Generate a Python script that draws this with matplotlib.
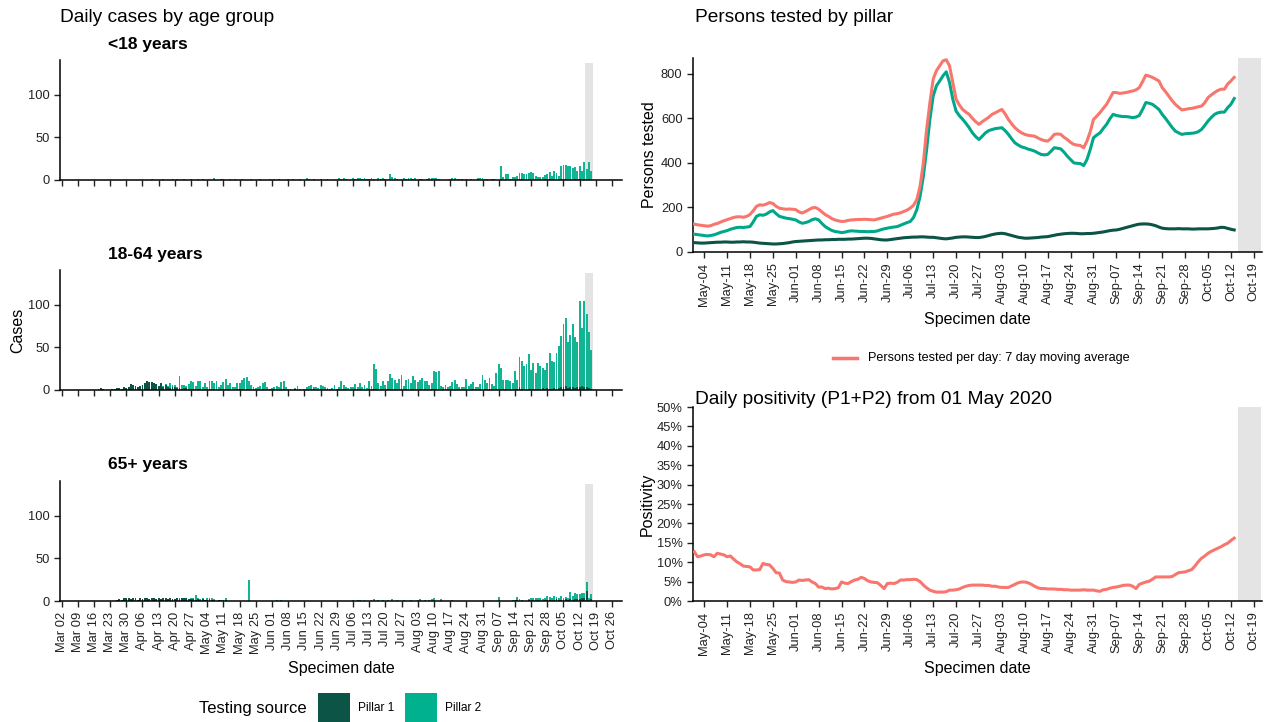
import numpy as np
import matplotlib
matplotlib.use('Agg')
import matplotlib.pyplot as plt
import matplotlib.dates as mdates
from matplotlib.patches import Rectangle
from matplotlib.lines import Line2D

plt.rcParams['font.family'] = ['Liberation Sans', 'DejaVu Sans']

P1_COL = '#0b5446'
P2_COL = '#13b493'
P2_LINE = '#00a889'
TOT_COL = '#f8766d'
GRAY = '#e4e4e4'

# ---------------------------------------------------------------
# daily cases by age group, Mar 02 - Oct 17 2020 (one row = Mon..Sun)
u18_p1 = [
    [0, 0, 0, 0, 0, 0, 0], [0, 0, 0, 0, 0, 0, 0], [0, 0, 0, 0, 0, 0, 0], [0, 0, 0, 0, 0, 0, 0],
    [0, 0, 0, 0, 0, 0, 0], [0, 0, 0, 0, 0, 0, 0], [0, 0, 0, 0, 0, 0, 0], [0, 0, 0, 0, 0, 0, 0],
    [0, 0, 0, 0, 0, 0, 0], [0, 0, 0, 0, 0, 0, 0], [0, 0, 0, 0, 0, 0, 0], [0, 0, 0, 0, 0, 0, 0],
    [0, 0, 0, 0, 0, 0, 0], [0, 0, 0, 0, 0, 0, 0], [0, 0, 0, 0, 0, 0, 0], [0, 0, 0, 0, 0, 0, 0],
    [0, 0, 0, 0, 0, 0, 0], [0, 0, 0, 0, 0, 0, 0], [0, 0, 0, 0, 0, 0, 0], [0, 0, 0, 0, 0, 0, 0],
    [0, 0, 0, 0, 0, 0, 0], [0, 0, 0, 0, 0, 0, 0], [0, 0, 0, 0, 0, 0, 0], [0, 0, 0, 0, 0, 0, 0],
    [0, 0, 0, 0, 0, 0, 0], [0, 0, 0, 0, 0, 0, 0], [0, 0, 0, 0, 0, 0, 0], [0, 1, 0, 0, 0, 0, 0],
    [0, 0, 0, 1, 0, 0, 0], [0, 0, 0, 0, 0, 0, 1], [0, 1, 0, 0, 0, 0, 1], [1, 0, 0, 1, 0, 1, 0],
    [1, 0, 1, 0, 1, 0]]
u18_p2 = [
    [0, 0, 0, 0, 0, 0, 0], [0, 0, 0, 0, 0, 0, 0], [0, 0, 0, 0, 0, 0, 0], [0, 0, 0, 0, 0, 0, 0],
    [0, 0, 0, 0, 0, 0, 0], [0, 0, 0, 0, 1, 0, 0], [0, 0, 1, 0, 0, 0, 1], [0, 1, 0, 0, 1, 0, 0],
    [1, 0, 0, 1, 0, 1, 0], [0, 1, 0, 2, 0, 0, 1], [1, 0, 0, 1, 0, 1, 0], [0, 1, 0, 0, 0, 1, 0],
    [0, 0, 1, 0, 0, 0, 1], [0, 1, 0, 1, 0, 0, 0], [1, 0, 1, 0, 0, 1, 0], [0, 2, 1, 0, 1, 0, 0],
    [1, 0, 0, 1, 0, 0, 1], [0, 2, 1, 2, 1, 0, 0], [2, 1, 2, 2, 1, 2, 1], [1, 2, 1, 0, 2, 1, 2],
    [1, 0, 7, 3, 2, 1, 0], [1, 2, 1, 2, 2, 1, 2], [0, 1, 1, 0, 1, 2, 2], [2, 2, 1, 0, 0, 0, 0],
    [1, 2, 2, 0, 1, 1, 0], [1, 0, 1, 0, 0, 2, 2], [2, 0, 1, 0, 1, 1, 0], [0, 15, 3, 7, 7, 1, 3],
    [3, 5, 8, 7, 7, 7, 8], [9, 8, 5, 4, 3, 4, 5], [7, 8, 5, 10, 8, 5, 16], [17, 18, 17, 15, 14, 14, 11],
    [15, 11, 20, 13, 20, 11]]

a1864_p1 = [
    [0, 0, 0, 0, 0, 0, 0], [0, 0, 0, 0, 0, 0, 0], [0, 0, 1, 2, 1, 0, 0], [0, 1, 1, 2, 2, 1, 3],
    [2, 3, 7, 6, 5, 4, 5], [6, 8, 10, 9, 9, 8, 7], [5, 8, 4, 6, 3, 2, 3], [3, 2, 2, 1, 2, 2, 1],
    [1, 1, 0, 1, 1, 0, 1], [1, 1, 0, 1, 1, 0, 1], [1, 0, 1, 1, 0, 0, 1], [1, 1, 0, 1, 1, 0, 0],
    [0, 1, 0, 1, 0, 0, 0], [0, 1, 0, 0, 1, 1, 0], [0, 0, 0, 1, 0, 0, 0], [0, 1, 0, 0, 1, 0, 0],
    [1, 0, 0, 1, 0, 0, 0], [0, 1, 0, 0, 1, 0, 0], [0, 1, 0, 1, 0, 0, 0], [1, 0, 1, 1, 0, 0, 1],
    [0, 1, 1, 0, 1, 0, 0], [1, 0, 1, 0, 1, 1, 0], [0, 1, 0, 1, 0, 0, 1], [1, 1, 0, 0, 1, 0, 0],
    [0, 1, 0, 0, 1, 0, 0], [1, 0, 0, 1, 0, 0, 1], [0, 1, 0, 1, 0, 0, 1], [1, 0, 1, 1, 0, 1, 0],
    [1, 1, 3, 1, 0, 1, 1], [1, 1, 0, 1, 1, 2, 1], [2, 1, 1, 2, 1, 2, 3], [3, 5, 2, 4, 3, 2, 4],
    [4, 5, 3, 4, 2, 1]]
a1864_p2 = [
    [0, 0, 0, 0, 0, 0, 0], [0, 0, 0, 0, 0, 0, 0], [0, 0, 0, 0, 0, 0, 0], [0, 0, 0, 0, 0, 0, 0],
    [0, 0, 0, 0, 0, 0, 0], [0, 0, 0, 0, 0, 0, 0], [0, 0, 1, 1, 2, 6, 3], [3, 2, 14, 5, 4, 3, 6],
    [9, 8, 5, 10, 9, 3, 7], [2, 9, 11, 7, 9, 4, 5], [8, 13, 5, 7, 4, 3, 7], [7, 11, 14, 14, 9, 6, 3],
    [2, 2, 5, 7, 9, 3, 1], [2, 2, 5, 3, 8, 9, 4], [1, 1, 0, 1, 5, 1, 0], [1, 3, 5, 6, 2, 4, 2],
    [5, 5, 3, 1, 1, 2, 6], [1, 2, 10, 6, 3, 2, 3], [4, 6, 3, 7, 4, 6, 2], [10, 5, 29, 24, 8, 5, 9],
    [6, 9, 18, 14, 11, 8, 13], [17, 5, 11, 13, 7, 15, 12], [9, 11, 14, 9, 11, 6, 7], [21, 20, 22, 5, 3, 6, 3],
    [5, 8, 12, 7, 3, 4, 4], [12, 5, 7, 8, 4, 3, 6], [18, 11, 8, 13, 7, 5, 19], [29, 26, 11, 11, 12, 9, 8],
    [21, 11, 36, 33, 28, 29, 41], [23, 31, 20, 31, 27, 24, 22], [30, 42, 33, 31, 43, 50, 61],
    [74, 80, 54, 61, 74, 60, 52], [101, 68, 102, 85, 66, 46]]

o65_p1 = [
    [0, 0, 0, 0, 0, 0, 0], [0, 0, 0, 0, 0, 0, 0], [0, 0, 0, 0, 0, 0, 0], [0, 0, 0, 1, 2, 1, 3],
    [3, 4, 2, 4, 3, 1, 4], [2, 3, 4, 2, 3, 4, 2], [3, 2, 3, 4, 2, 3, 2], [2, 3, 2, 3, 4, 3, 2],
    [2, 2, 1, 2, 1, 2, 1], [1, 2, 1, 1, 0, 1, 0], [0, 1, 0, 0, 0, 0, 0], [0, 0, 0, 0, 0, 0, 0],
    [0, 0, 0, 0, 0, 0, 0], [0, 0, 0, 0, 0, 0, 0], [0, 0, 0, 0, 0, 0, 0], [0, 0, 0, 0, 0, 0, 0],
    [0, 0, 0, 0, 0, 0, 0], [0, 0, 0, 0, 0, 0, 0], [0, 0, 0, 0, 0, 0, 0], [0, 0, 0, 0, 0, 0, 0],
    [0, 0, 0, 0, 0, 0, 0], [0, 0, 0, 0, 0, 0, 0], [0, 0, 0, 0, 0, 0, 0], [0, 0, 0, 0, 0, 0, 0],
    [0, 0, 0, 0, 0, 0, 0], [0, 0, 0, 0, 0, 0, 0], [0, 0, 0, 0, 0, 0, 0], [0, 0, 0, 0, 0, 0, 0],
    [0, 1, 0, 0, 0, 0, 1], [0, 1, 0, 1, 0, 0, 1], [1, 1, 0, 1, 2, 1, 1], [1, 2, 1, 2, 1, 2, 2],
    [2, 3, 3, 12, 1, 2]]
o65_p2 = [
    [0, 0, 0, 0, 0, 0, 0], [0, 0, 0, 0, 0, 0, 0], [0, 0, 0, 0, 0, 0, 0], [0, 0, 0, 0, 0, 0, 0],
    [0, 0, 0, 0, 0, 0, 0], [0, 0, 0, 0, 0, 0, 0], [0, 0, 0, 0, 0, 0, 0], [0, 0, 1, 0, 0, 1, 0],
    [1, 1, 6, 2, 1, 1, 0], [2, 1, 3, 1, 0, 0, 1], [1, 2, 0, 0, 0, 0, 0], [0, 0, 0, 0, 25, 0, 0],
    [0, 0, 0, 0, 0, 0, 0], [0, 0, 1, 0, 1, 0, 0], [0, 0, 0, 0, 0, 0, 0], [0, 0, 0, 0, 0, 0, 0],
    [0, 0, 0, 0, 0, 0, 0], [0, 0, 0, 0, 0, 0, 0], [1, 0, 1, 1, 0, 1, 0], [0, 1, 2, 0, 1, 0, 1],
    [0, 1, 0, 2, 0, 1, 0], [0, 1, 0, 0, 1, 0, 0], [1, 2, 0, 1, 0, 1, 2], [4, 0, 0, 2, 0, 0, 0],
    [0, 1, 0, 0, 0, 0, 0], [0, 0, 0, 0, 0, 0, 0], [0, 0, 0, 1, 0, 0, 0], [5, 0, 0, 0, 0, 0, 1],
    [1, 4, 2, 1, 0, 0, 1], [3, 3, 3, 2, 3, 2, 3], [5, 4, 4, 5, 3, 3, 5], [3, 3, 2, 8, 5, 7, 6],
    [6, 6, 6, 10, 3, 6]]

# ---------------------------------------------------------------
# persons tested per day (7 day moving average), May 01 - Oct 13 2020
# first row Fri-Sun, then Mon..Sun weeks, last row Mon-Tue
tested_total = [
    [125, 122, 120],
    [118, 116, 118, 124, 128, 134, 140], [145, 150, 155, 158, 158, 156, 160],
    [168, 185, 205, 212, 210, 215, 222], [218, 205, 197, 194, 192, 193, 192],
    [190, 180, 175, 182, 190, 198, 200], [192, 180, 168, 160, 150, 144, 140],
    [137, 138, 142, 144, 145, 146, 146], [147, 146, 145, 144, 148, 152, 156],
    [160, 165, 170, 172, 176, 182, 188], [197, 210, 235, 295, 400, 550, 670],
    [776, 814, 836, 858, 863, 836, 761], [686, 660, 640, 628, 618, 600, 585],
    [573, 585, 595, 605, 618, 625, 633], [640, 620, 595, 575, 558, 545, 535],
    [528, 524, 522, 520, 512, 505, 500], [498, 510, 528, 530, 528, 515, 505],
    [492, 483, 480, 478, 468, 498, 540], [595, 610, 626, 645, 663, 690, 716],
    [716, 712, 714, 716, 720, 723, 728], [738, 765, 794, 790, 784, 776, 768],
    [738, 720, 700, 680, 663, 650, 638], [640, 643, 645, 648, 652, 655, 670],
    [693, 705, 716, 725, 731, 731, 754], [768, 784]]
tested_p2 = [
    [80, 78, 76],
    [74, 72, 74, 77, 82, 88, 92], [96, 102, 106, 110, 111, 110, 112],
    [114, 135, 160, 167, 165, 170, 180], [186, 172, 160, 156, 152, 150, 147],
    [144, 135, 129, 132, 137, 145, 149], [144, 128, 114, 105, 97, 92, 90],
    [87, 89, 93, 95, 94, 93, 92], [92, 91, 92, 92, 95, 100, 104],
    [107, 110, 112, 114, 120, 126, 132], [137, 155, 190, 250, 340, 460, 596],
    [700, 746, 768, 791, 809, 761, 686], [633, 612, 596, 578, 558, 535, 518],
    [505, 520, 535, 545, 550, 554, 556], [558, 545, 528, 508, 490, 480, 472],
    [468, 462, 458, 453, 445, 438, 436], [438, 452, 468, 466, 463, 448, 430],
    [415, 400, 398, 397, 388, 415, 460], [513, 525, 535, 555, 573, 598, 618],
    [613, 610, 608, 608, 606, 603, 606], [613, 640, 671, 668, 663, 652, 640],
    [618, 600, 580, 560, 543, 535, 528], [531, 532, 533, 535, 540, 550, 568],
    [588, 604, 618, 625, 628, 628, 648], [663, 689]]
tested_p1 = [
    [42, 41, 40],
    [40, 41, 42, 43, 44, 44, 45], [45, 44, 44, 45, 45, 46, 45],
    [45, 44, 42, 40, 39, 38, 37], [36, 36, 37, 38, 40, 42, 45],
    [47, 48, 49, 50, 51, 52, 53], [54, 54, 55, 55, 56, 56, 57],
    [57, 57, 58, 58, 59, 60, 61], [62, 62, 61, 59, 57, 55, 54],
    [54, 56, 58, 60, 62, 64, 65], [66, 67, 67, 68, 68, 67, 66],
    [66, 64, 62, 60, 59, 61, 63], [66, 67, 68, 68, 67, 66, 65],
    [65, 67, 70, 74, 78, 81, 83], [84, 82, 78, 74, 70, 66, 64],
    [62, 62, 63, 64, 65, 67, 68], [69, 72, 75, 78, 80, 82, 83],
    [84, 84, 83, 82, 82, 83, 83], [84, 86, 88, 90, 93, 96, 98],
    [99, 102, 106, 110, 114, 118, 122], [125, 126, 126, 125, 122, 118, 112],
    [107, 105, 104, 104, 104, 105, 104], [104, 104, 103, 103, 104, 104, 104],
    [104, 105, 106, 108, 111, 110, 106], [102, 99]]

# daily positivity (%), May 01 - Oct 13 2020
positivity = [
    [12.7, 11.4, 11.6],
    [11.9, 12.0, 11.9, 11.4, 12.3, 12.1, 11.9], [11.4, 11.6, 10.8, 10.1, 9.6, 9.0, 8.9],
    [8.8, 8.0, 8.0, 8.1, 9.7, 9.4, 9.3], [8.4, 7.3, 7.2, 5.4, 5.0, 4.9, 4.8],
    [4.9, 5.4, 5.3, 5.4, 5.5, 4.9, 4.5], [3.6, 3.6, 3.2, 3.3, 3.1, 3.2, 3.4],
    [4.9, 4.6, 4.5, 5.0, 5.4, 5.6, 6.1], [5.8, 5.2, 4.9, 4.8, 4.7, 4.0, 3.2],
    [4.5, 4.6, 4.5, 4.8, 5.4, 5.4, 5.5], [5.5, 5.6, 5.5, 5.0, 4.1, 3.4, 2.8],
    [2.5, 2.3, 2.3, 2.3, 2.4, 2.8, 2.8], [2.9, 3.1, 3.5, 3.8, 4.0, 4.1, 4.1],
    [4.1, 4.1, 4.0, 4.0, 3.8, 3.8, 3.6], [3.5, 3.5, 3.5, 3.9, 4.3, 4.7, 4.9],
    [4.9, 4.7, 4.3, 3.8, 3.4, 3.2, 3.2], [3.1, 3.1, 3.1, 3.0, 3.0, 2.9, 2.9],
    [2.8, 2.8, 2.8, 2.8, 2.9, 2.8, 2.8], [2.8, 2.6, 2.5, 2.9, 3.0, 3.3, 3.5],
    [3.6, 3.8, 4.0, 4.1, 4.1, 3.8, 3.2], [4.3, 4.6, 4.9, 5.1, 5.6, 6.2, 6.2],
    [6.2, 6.2, 6.2, 6.3, 6.8, 7.3, 7.4], [7.5, 7.8, 8.1, 9.0, 10.1, 11.0, 11.6],
    [12.3, 12.8, 13.2, 13.6, 14.0, 14.5, 14.9], [15.6, 16.2]]

age_groups = ['<18 years', '18-64 years', '65+ years']


def flat(rows):
    return np.array([v for r in rows for v in r], dtype=float)


case_days = np.arange(np.datetime64('2020-03-02'), np.datetime64('2020-10-18'))
test_days = np.arange(np.datetime64('2020-05-01'), np.datetime64('2020-10-14'))
cd = mdates.date2num(case_days.astype('datetime64[s]').astype(object))
td = mdates.date2num(test_days.astype('datetime64[s]').astype(object))


def dnum(s):
    return mdates.date2num(np.datetime64(s).astype('datetime64[s]').astype(object))


W, H = 1264, 722
fig = plt.figure(figsize=(W / 100, H / 100), dpi=100)


def px_axes(x0, y0, x1, y1):
    return fig.add_axes([x0 / W, 1 - y1 / H, (x1 - x0) / W, (y1 - y0) / H])


def style(ax):
    for s in ['top', 'right']:
        ax.spines[s].set_visible(False)
    for s in ['left', 'bottom']:
        ax.spines[s].set_linewidth(1.1)
    ax.tick_params(direction='out', length=4, width=1, colors='#222222', labelsize=9.3)


# ---------------- left column: bars ----------------
case_ticks = np.arange(np.datetime64('2020-03-02'), np.datetime64('2020-10-27'), 7)
case_tnum = mdates.date2num(case_ticks.astype('datetime64[s]').astype(object))
case_tlab = [mdates.num2date(t).strftime('%b %d') for t in case_tnum]

series = [(u18_p1, u18_p2), (a1864_p1, a1864_p2), (o65_p1, o65_p2)]
rows_px = [(60, 180), (270, 390), (481, 601)]
sub_y = [44, 254, 465]
for i, ((p1, p2), (y0, y1)) in enumerate(zip(series, rows_px)):
    ax = px_axes(60, y0, 622, y1)
    style(ax)
    v1, v2 = flat(p1), flat(p2)
    ax.axvspan(dnum('2020-10-14') + 0.5, dnum('2020-10-17') + 0.6, ymax=0.975,
               color=GRAY, lw=0, zorder=0)
    ax.bar(cd, v1, width=0.82, color=P1_COL, lw=0, zorder=2)
    ax.bar(cd, v2, width=0.82, bottom=v1, color=P2_COL, lw=0, zorder=2)
    ax.set_ylim(0, 141)
    ax.set_yticks([0, 50, 100])
    ax.set_xlim(dnum('2020-03-02') - 0.65, dnum('2020-10-30') + 0.3)
    ax.set_xticks(case_tnum)
    if i == 2:
        ax.set_xticklabels(case_tlab, rotation=90)
        ax.set_xlabel('Specimen date', fontsize=11.5, labelpad=5)
    else:
        ax.set_xticklabels([])
    if i == 1:
        ax.set_ylabel('Cases', fontsize=11.5, labelpad=2)
    fig.text(108 / W, 1 - sub_y[i] / H, age_groups[i], fontsize=12.5,
             fontweight='bold', va='center', ha='left')

fig.text(60 / W, 1 - 18 / H, 'Daily cases by age group', fontsize=13.8,
         va='center', ha='left')

# legend bottom-left
fig.text(307 / W, 1 - 708 / H, 'Testing source', fontsize=12, va='center', ha='right')
for x0, col, lab in [(318, P1_COL, 'Pillar 1'), (405, '#00b18f', 'Pillar 2')]:
    fig.patches.append(Rectangle((x0 / W, 1 - 722 / H), 32 / W, 29 / H,
                                 transform=fig.transFigure, color=col, lw=0))
    fig.text((x0 + 40) / W, 1 - 708 / H, lab, fontsize=8.6, va='center', ha='left')

# ---------------- right column ----------------
test_ticks = np.arange(np.datetime64('2020-05-04'), np.datetime64('2020-10-20'), 7)
test_tnum = mdates.date2num(test_ticks.astype('datetime64[s]').astype(object))
test_tlab = [mdates.num2date(t).strftime('%b-%d') for t in test_tnum]
rx0, rx1 = dnum('2020-05-01') - 0.4, dnum('2020-10-21') + 0.5

ax = px_axes(693, 58, 1262, 252)
style(ax)
ax.axvspan(dnum('2020-10-14') + 0.1, dnum('2020-10-21') + 0.2, color=GRAY, lw=0, zorder=0)
ax.plot(td, flat(tested_p1), color=P1_COL, lw=2.2, zorder=3)
ax.plot(td, flat(tested_p2), color=P2_LINE, lw=2.2, zorder=3)
ax.plot(td, flat(tested_total), color=TOT_COL, lw=2.2, zorder=4)
ax.set_ylim(0, 871)
ax.set_yticks([0, 200, 400, 600, 800])
ax.set_xlim(rx0, rx1)
ax.set_xticks(test_tnum)
ax.set_xticklabels(test_tlab, rotation=90)
ax.set_xlabel('Specimen date', fontsize=11.5, labelpad=5)
ax.set_ylabel('Persons tested', fontsize=11.5, labelpad=3)
fig.text(695 / W, 1 - 18 / H, 'Persons tested by pillar', fontsize=13.8, va='center', ha='left')

fig.lines.append(Line2D([833 / W, 857 / W], [1 - 358 / H, 1 - 358 / H],
                        transform=fig.transFigure, color=TOT_COL, lw=2.5))
fig.text(868 / W, 1 - 358 / H, 'Persons tested per day: 7 day moving average',
         fontsize=9.1, va='center', ha='left')

ax = px_axes(693, 407, 1262, 601)
style(ax)
ax.axvspan(dnum('2020-10-14') + 0.1, dnum('2020-10-21') + 0.2, color=GRAY, lw=0, zorder=0)
ax.plot(td, flat(positivity) / 100, color=TOT_COL, lw=2.2, zorder=3)
ax.set_ylim(0, 0.5)
ax.set_yticks(np.arange(0, 0.501, 0.05))
ax.set_yticklabels([f'{int(round(v * 100))}%' for v in np.arange(0, 0.501, 0.05)])
ax.set_xlim(rx0, rx1)
ax.set_xticks(test_tnum)
ax.set_xticklabels(test_tlab, rotation=90)
ax.set_xlabel('Specimen date', fontsize=11.5, labelpad=5)
ax.set_ylabel('Positivity', fontsize=11.5, labelpad=1)
fig.text(695 / W, 1 - 400 / H, 'Daily positivity (P1+P2) from 01 May 2020', fontsize=13.8,
         va='center', ha='left')

fig.savefig('out.png', dpi=100)
